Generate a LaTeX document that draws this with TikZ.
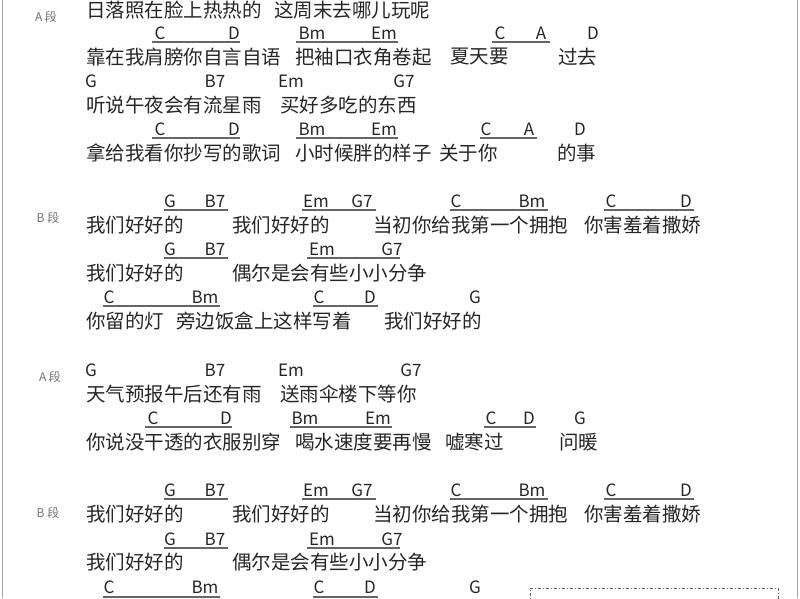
\documentclass[tikz,border=0pt]{standalone}
\usepackage{fontspec}
\setmainfont{Noto Sans CJK SC}
\newcounter{nn}
\tikzset{
 ly/.style={anchor=west,inner sep=0pt,font=\fontsize{19.5}{21}\selectfont,text=black!85},
 cd/.style={anchor=center,inner sep=0pt,font=\fontsize{17}{19}\selectfont,text=black!85},
 sec/.style={anchor=center,inner sep=0pt,font=\fontsize{12}{13}\selectfont,text=black!55},
 ul/.style={draw=black!60,line width=1.1pt},
}
\newcommand{\Ly}[3]{\stepcounter{nn}\node[ly] (n\thenn) at (#1,#2) {#3};}
\newcommand{\Cd}[3]{\stepcounter{nn}\node[cd] (n\thenn) at (#1,#2) {#3};}
\newcommand{\Ul}[3]{\draw[ul] (#1,#3) -- (#2,#3);}
\newcommand{\Sec}[3]{\stepcounter{nn}\node[sec] (n\thenn) at (#1,#2) {#3};}
\begin{document}
\begin{tikzpicture}[x=1pt,y=-1pt]
\useasboundingbox (0,0) rectangle (800,598);
\fill[white] (0,0) rectangle (800,598);
\draw[black!35,line width=1pt] (2,0) -- (2,598);
\draw[black!35,line width=1pt] (797,0) -- (797,598);
% A1
\Sec{46}{17}{A 段}
\Ly{86}{10}{日落照在脸上热热的}\Ly{274}{10}{这周末去哪儿玩呢}
\Cd{160}{33}{C}\Cd{234}{33}{D}\Cd{312}{33}{Bm}\Cd{384}{33}{Em}\Cd{500}{33}{C}\Cd{541}{33}{A}\Cd{593}{33}{D}
\Ul{152}{240}{42}\Ul{296}{398}{42}\Ul{492}{550}{42}
\Ly{86}{57}{靠在我肩膀你自言自语}\Ly{295}{57}{把袖口衣角卷起}\Ly{450}{57}{夏天要}\Ly{558}{57}{过去}
\Cd{91}{81}{G}\Cd{215}{81}{B7}\Cd{291}{81}{Em}\Cd{404}{81}{G7}
\Ly{86}{105}{听说午夜会有流星雨}\Ly{280}{105}{买好多吃的东西}
\Cd{160}{129}{C}\Cd{234}{129}{D}\Cd{312}{129}{Bm}\Cd{384}{129}{Em}\Cd{486}{129}{C}\Cd{529}{129}{A}\Cd{580}{129}{D}
\Ul{152}{240}{138}\Ul{296}{398}{138}\Ul{480}{537}{138}
\Ly{86}{153}{拿给我看你抄写的歌词}\Ly{295}{153}{小时候胖的样子}\Ly{439}{153}{关于你}\Ly{557}{153}{的事}
% B1
\Sec{48}{218}{B 段}
\Cd{170}{201}{G}\Cd{215}{201}{B7}\Cd{316}{201}{Em}\Cd{362}{201}{G7}\Cd{456}{201}{C}\Cd{532}{201}{Bm}\Cd{611}{201}{C}\Cd{686}{201}{D}
\Ul{164}{228}{210}\Ul{302}{376}{210}\Ul{450}{548}{210}\Ul{604}{694}{210}
\Ly{86}{225}{我们好好的}\Ly{232}{225}{我们好好的}\Ly{373}{225}{当初你给我第一个拥抱}\Ly{584}{225}{你害羞着撒娇}
\Cd{170}{249}{G}\Cd{215}{249}{B7}\Cd{322}{249}{Em}\Cd{392}{249}{G7}
\Ul{164}{228}{258}\Ul{307}{400}{258}
\Ly{86}{273}{我们好好的}\Ly{232}{273}{偶尔是会有些小小分争}
\Cd{109}{297}{C}\Cd{205}{297}{Bm}\Cd{319}{297}{C}\Cd{370}{297}{D}\Cd{475}{297}{G}
\Ul{103}{220}{306}\Ul{313}{378}{306}
\Ly{86}{321}{你留的灯}\Ly{176}{321}{旁边饭盒上这样写着}\Ly{384}{321}{我们好好的}
% A2
\Sec{50}{377}{A 段}
\Cd{91}{370}{G}\Cd{215}{370}{B7}\Cd{291}{370}{Em}\Cd{411}{370}{G7}
\Ly{86}{394}{天气预报午后还有雨}\Ly{280}{394}{送雨伞楼下等你}
\Cd{153}{418}{C}\Cd{226}{418}{D}\Cd{305}{418}{Bm}\Cd{378}{418}{Em}\Cd{491}{418}{C}\Cd{529}{418}{D}\Cd{580}{418}{G}
\Ul{145}{232}{427}\Ul{290}{392}{427}\Ul{484}{536}{427}
\Ly{86}{442}{你说没干透的衣服别穿}\Ly{295}{442}{喝水速度要再慢}\Ly{445}{442}{嘘寒过}\Ly{559}{442}{问暖}
% B2
\Sec{48}{513}{B 段}
\Cd{170}{490}{G}\Cd{215}{490}{B7}\Cd{316}{490}{Em}\Cd{362}{490}{G7}\Cd{456}{490}{C}\Cd{532}{490}{Bm}\Cd{611}{490}{C}\Cd{686}{490}{D}
\Ul{164}{228}{499}\Ul{302}{376}{499}\Ul{450}{548}{499}\Ul{604}{694}{499}
\Ly{86}{514}{我们好好的}\Ly{232}{514}{我们好好的}\Ly{373}{514}{当初你给我第一个拥抱}\Ly{584}{514}{你害羞着撒娇}
\Cd{170}{539}{G}\Cd{215}{539}{B7}\Cd{322}{539}{Em}\Cd{392}{539}{G7}
\Ul{164}{228}{548}\Ul{307}{400}{548}
\Ly{86}{562}{我们好好的}\Ly{232}{562}{偶尔是会有些小小分争}
\Cd{109}{587}{C}\Cd{205}{587}{Bm}\Cd{319}{587}{C}\Cd{370}{587}{D}\Cd{475}{587}{G}
\Ul{103}{220}{597}\Ul{313}{378}{597}
% dashed box
\draw[black!60,line width=0.8pt,dash pattern=on 3pt off 2pt on 1pt off 2pt] (530,604) -- (530,588) -- (778,588) -- (778,604);
\end{tikzpicture}
\end{document}
